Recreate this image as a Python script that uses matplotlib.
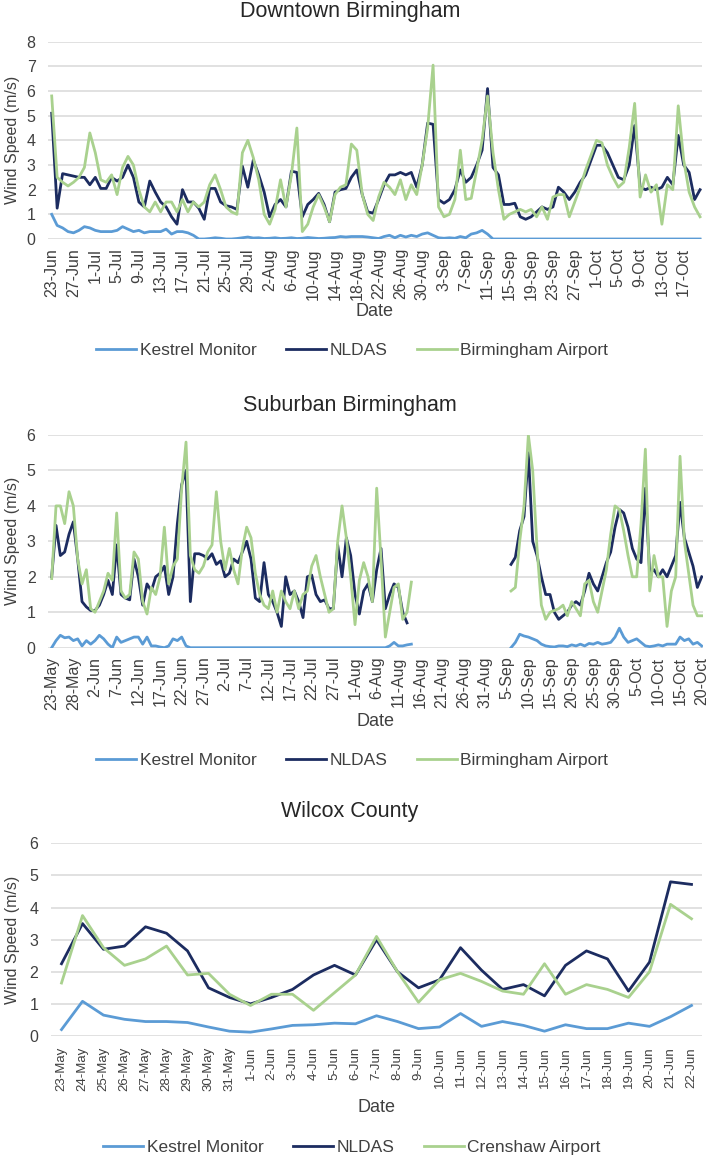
import matplotlib
matplotlib.use('Agg')
import matplotlib.pyplot as plt
import numpy as np
import pandas as pd

plt.rcParams['font.family'] = ['Liberation Sans', 'DejaVu Sans']

nan = np.nan

# Downtown Birmingham, daily 23-Jun .. 20-Oct
dt_dates = pd.date_range('2017-06-23', '2017-10-20')
dt_kestrel = [1.0, 0.55, 0.45, 0.3, 0.25, 0.35, 0.5, 0.45, 0.35, 0.3,
              0.3, 0.3, 0.35, 0.5, 0.4, 0.3, 0.35, 0.25, 0.3, 0.3,
              0.3, 0.4, 0.2, 0.3, 0.3, 0.25, 0.15, 0.0, 0.0, 0.02,
              0.05, 0.03, 0.0, 0.0, 0.02, 0.05, 0.08, 0.04, 0.05, 0.02,
              0.03, 0.05, 0.02, 0.03, 0.05, 0.02, 0.03, 0.06, 0.04, 0.02,
              0.03, 0.05, 0.06, 0.1, 0.08, 0.1, 0.1, 0.1, 0.08, 0.05,
              0.02, 0.1, 0.15, 0.05, 0.15, 0.08, 0.15, 0.1, 0.2, 0.25,
              0.15, 0.05, 0.03, 0.05, 0.03, 0.1, 0.05, 0.2, 0.25, 0.35,
              0.2, 0.0, 0.0, 0.0, 0.0, 0.0, 0.0, 0.0, 0.0, 0.0,
              0.0, 0.0, 0.0, 0.0, 0.0, 0.0, 0.0, 0.0, 0.0, 0.0,
              0.0, 0.0, 0.0, 0.0, 0.0, 0.0, 0.0, 0.0, 0.0, 0.0,
              0.0, 0.0, 0.0, 0.0, 0.0, 0.0, 0.0, 0.0, 0.0, 0.0]
dt_nldas = [5.1, 1.25, 2.65, 2.6, 2.55, 2.5, 2.5, 2.2, 2.5, 2.05,
            2.05, 2.5, 2.35, 2.5, 3.0, 2.5, 1.5, 1.3, 2.35, 1.9,
            1.5, 1.3, 0.9, 0.6, 2.0, 1.5, 1.5, 1.25, 0.8, 2.05,
            2.05, 1.5, 1.35, 1.3, 1.2, 2.95, 2.1, 3.2, 2.6, 1.9,
            0.9, 1.4, 1.6, 1.3, 2.75, 2.7, 0.9, 1.4, 1.6, 1.85,
            1.4, 0.7, 1.9, 2.0, 2.05, 2.5, 2.8, 1.8, 1.1, 1.05,
            1.6, 2.2, 2.6, 2.6, 2.7, 2.6, 2.7, 2.1, 3.0, 4.7,
            4.65, 1.6, 1.45, 1.6, 2.0, 2.8, 2.3, 2.5, 3.0, 3.6,
            6.1, 2.9, 2.6, 1.4, 1.4, 1.45, 0.9, 0.8, 0.9, 1.1,
            1.3, 1.2, 1.3, 2.1, 1.9, 1.6, 1.9, 2.3, 2.6, 3.2,
            3.8, 3.8, 3.5, 3.0, 2.5, 2.4, 3.0, 4.6, 2.1, 2.0,
            2.1, 2.0, 2.1, 2.5, 2.2, 4.2, 3.0, 2.7, 1.6, 2.0]
dt_airport = [5.8, 2.5, 2.3, 2.15, 2.3, 2.5, 2.9, 4.3, 3.5, 2.4,
              2.3, 2.6, 1.8, 2.9, 3.35, 3.0, 2.0, 1.3, 1.1, 1.5,
              1.1, 1.5, 1.5, 1.1, 1.6, 1.1, 1.5, 1.3, 1.5, 2.2,
              2.6, 2.0, 1.3, 1.1, 1.0, 3.5, 4.0, 3.3, 2.4, 1.0,
              0.6, 1.2, 2.4, 1.3, 2.6, 4.5, 0.3, 0.6, 1.3, 1.8,
              1.3, 0.7, 1.8, 2.1, 2.2, 3.85, 3.6, 1.8, 1.0, 0.75,
              1.7, 2.3, 2.1, 1.8, 2.4, 1.6, 2.2, 1.8, 3.0, 4.5,
              7.05, 1.3, 0.9, 1.0, 1.6, 3.6, 1.6, 1.65, 2.8, 4.0,
              5.8, 3.5, 2.0, 0.8, 1.0, 1.1, 1.2, 1.1, 1.2, 0.9,
              1.3, 0.8, 1.7, 1.8, 1.8, 0.9, 1.5, 2.1, 2.8, 3.4,
              4.0, 3.9, 3.0, 2.5, 2.1, 2.3, 3.7, 5.5, 1.7, 2.6,
              1.9, 2.2, 0.6, 2.2, 2.0, 5.4, 3.2, 1.9, 1.3, 0.9]

# Suburban Birmingham, daily 23-May .. 20-Oct (gap in late Aug)
sub_dates = pd.date_range('2017-05-23', '2017-10-20')
sub_kestrel = [0.0, 0.2, 0.35, 0.28, 0.3, 0.2, 0.25, 0.05, 0.2, 0.1,
               0.2, 0.35, 0.25, 0.1, 0.0, 0.3, 0.15, 0.2, 0.25, 0.3,
               0.3, 0.1, 0.3, 0.05, 0.05, 0.02, 0.0, 0.05, 0.25, 0.2,
               0.3, 0.05, 0.0, 0.0, 0.0, 0.0, 0.0, 0.0, 0.0, 0.0,
               0.0, 0.0, 0.0, 0.0, 0.0, 0.0, 0.0, 0.0, 0.0, 0.0,
               0.0, 0.0, 0.0, 0.0, 0.0, 0.0, 0.0, 0.0, 0.0, 0.0,
               0.0, 0.0, 0.0, 0.0, 0.0, 0.0, 0.0, 0.0, 0.0, 0.0,
               0.0, 0.0, 0.0, 0.0, 0.0, 0.0, 0.0, 0.0, 0.05, 0.15,
               0.05, 0.05, 0.08, 0.1, nan, nan, nan, nan, nan, nan,
               nan, nan, nan, nan, nan, nan, nan, nan, nan, nan,
               nan, nan, nan, nan, nan, nan, 0.0, 0.15, 0.38, 0.33,
               0.3, 0.25, 0.2, 0.1, 0.05, 0.03, 0.02, 0.05, 0.05, 0.03,
               0.08, 0.05, 0.1, 0.05, 0.12, 0.1, 0.15, 0.1, 0.12, 0.15,
               0.3, 0.55, 0.3, 0.15, 0.2, 0.25, 0.15, 0.05, 0.03, 0.05,
               0.08, 0.05, 0.1, 0.1, 0.1, 0.3, 0.2, 0.25, 0.1, 0.15,
               0.05]
sub_nldas = [2.0, 3.45, 2.6, 2.7, 3.2, 3.55, 2.5, 1.3, 1.15, 1.05,
             1.05, 1.2, 1.5, 1.9, 1.5, 2.9, 1.5, 1.4, 1.35, 2.5,
             2.0, 1.2, 1.8, 1.6, 2.0, 2.1, 2.3, 1.5, 2.0, 3.5,
             4.6, 5.0, 1.3, 2.65, 2.65, 2.6, 2.5, 2.65, 2.35, 2.45,
             2.0, 2.1, 2.5, 2.4, 2.7, 3.0, 2.5, 1.4, 1.3, 2.4,
             1.5, 1.3, 1.0, 0.6, 2.0, 1.5, 1.6, 1.3, 0.85, 2.0,
             2.05, 1.5, 1.3, 1.35, 1.1, 1.1, 2.9, 2.0, 3.1, 2.6,
             1.5, 0.95, 1.6, 1.8, 1.3, 2.2, 2.8, 1.1, 1.5, 1.8,
             1.7, 1.0, 0.7, nan, nan, nan, nan, nan, nan, nan,
             nan, nan, nan, nan, nan, nan, nan, nan, nan, nan,
             nan, nan, nan, nan, nan, nan, 2.35, 2.55, 3.3, 3.7,
             5.5, 3.0, 2.6, 2.0, 1.5, 1.5, 1.0, 0.8, 0.9, 1.0,
             1.2, 1.3, 1.2, 1.6, 2.1, 1.8, 1.6, 2.0, 2.4, 2.7,
             3.4, 3.9, 3.8, 3.4, 2.8, 2.5, 2.4, 4.5, 2.1, 2.2,
             2.0, 2.2, 2.0, 2.3, 2.6, 4.1, 3.1, 2.7, 2.3, 1.7,
             2.0]
sub_airport = [1.95, 4.0, 4.0, 3.5, 4.4, 4.0, 2.5, 1.8, 2.2, 1.1,
               1.0, 1.3, 1.6, 2.1, 1.9, 3.8, 1.6, 1.4, 1.5, 2.7,
               2.5, 1.3, 0.95, 1.7, 1.5, 2.0, 3.4, 1.8, 2.3, 2.5,
               4.5, 5.8, 2.6, 2.2, 2.1, 2.3, 2.7, 2.9, 4.4, 3.0,
               2.2, 2.8, 2.2, 1.8, 2.8, 3.4, 3.1, 2.1, 1.5, 1.2,
               1.1, 1.6, 1.0, 1.6, 1.3, 1.1, 1.6, 1.1, 1.5, 1.6,
               2.3, 2.6, 2.0, 1.5, 1.0, 1.1, 3.0, 4.0, 3.1, 2.0,
               0.65, 1.9, 2.4, 2.0, 1.3, 4.5, 2.5, 0.3, 1.0, 1.7,
               1.8, 0.8, 1.0, 1.85, nan, nan, nan, nan, nan, nan,
               nan, nan, nan, nan, nan, nan, nan, nan, nan, nan,
               nan, nan, nan, nan, nan, nan, 1.6, 1.7, 3.0, 4.0,
               6.0, 5.0, 2.8, 1.2, 0.8, 1.0, 1.05, 1.1, 1.2, 0.9,
               1.3, 1.1, 0.9, 1.8, 1.9, 1.3, 1.0, 1.6, 2.2, 3.2,
               4.0, 3.9, 3.3, 2.6, 2.0, 2.0, 3.5, 5.6, 1.6, 2.6,
               2.0, 2.0, 0.6, 1.6, 2.0, 5.4, 3.0, 2.1, 1.2, 0.9,
               0.9]

# Wilcox County, daily 23-May .. 22-Jun
wil_dates = pd.date_range('2017-05-23', '2017-06-22')
wil_kestrel = [0.2, 1.08, 0.65, 0.52, 0.45, 0.45, 0.42, 0.28, 0.15, 0.12,
               0.22, 0.33, 0.35, 0.4, 0.38, 0.63, 0.45, 0.23, 0.28, 0.7,
               0.3, 0.45, 0.33, 0.15, 0.35, 0.23, 0.23, 0.4, 0.3, 0.6,
               0.95]
wil_nldas = [2.25, 3.5, 2.7, 2.8, 3.4, 3.2, 2.65, 1.5, 1.2, 1.0,
             1.2, 1.45, 1.9, 2.2, 1.9, 3.0, 2.0, 1.5, 1.75, 2.75,
             2.05, 1.45, 1.6, 1.25, 2.2, 2.65, 2.4, 1.4, 2.3, 4.8,
             4.72]
wil_airport = [1.65, 3.75, 2.75, 2.2, 2.4, 2.8, 1.9, 1.95, 1.3, 0.95,
               1.3, 1.3, 0.8, 1.35, 1.9, 3.1, 2.0, 1.05, 1.75, 1.95,
               1.7, 1.4, 1.3, 2.25, 1.3, 1.6, 1.45, 1.2, 2.0, 4.1,
               3.65]

C_KES = '#5B9BD5'
C_NLD = '#1C2C60'
C_AIR = '#A9D18E'
GRID = '#DCDCDC'
TXT = '#404040'

W, H = 709, 1157
fig = plt.figure(figsize=(W / 100, H / 100), dpi=100)


def px(x, y):
    return x / W, 1 - y / H


def panel(rect, title, title_y, dates, kes, nld, air, air_name, ymax, step,
          xlim, tick_size, tick_pad, date_y, legend_y):
    left, top, right, bottom = rect
    ax = fig.add_axes([left / W, 1 - bottom / H, (right - left) / W, (bottom - top) / H])
    x = np.arange(len(dates))
    lk, = ax.plot(x, kes, color=C_KES, lw=2)
    ln, = ax.plot(x, nld, color=C_NLD, lw=2)
    la, = ax.plot(x, air, color=C_AIR, lw=2)
    ax.set_ylim(0, ymax)
    ax.set_yticks(range(0, ymax + 1))
    ax.set_xlim(*xlim)
    ax.set_xticks(x[::step])
    ax.set_xticklabels([f"{d.day}-{d:%b}" for d in dates[::step]], rotation=90,
                       fontsize=tick_size, color=TXT)
    ax.tick_params(axis='x', length=0, pad=tick_pad)
    ax.tick_params(axis='y', length=0, pad=9, labelsize=11.5, labelcolor=TXT)
    for s in ax.spines.values():
        s.set_visible(False)
    ax.yaxis.grid(True, color=GRID, lw=1.2)
    ax.set_axisbelow(True)
    cx = (left + right) / 2
    fig.text(*px(350, title_y), title, ha='center', va='center', fontsize=15.5, color='#262626')
    fig.text(*px(cx, date_y), 'Date', ha='center', va='center', fontsize=13, color=TXT)
    fig.text(*px(13, (top + bottom) / 2), 'Wind Speed (m/s)', rotation=90,
             ha='center', va='center', fontsize=11.5, color=TXT)
    fig.legend([lk, ln, la], ['Kestrel Monitor', 'NLDAS', air_name], loc='center',
               bbox_to_anchor=px(352, legend_y), bbox_transform=fig.transFigure,
               ncol=3, frameon=False, fontsize=12.5, handlelength=2.3,
               handletextpad=0.2, columnspacing=1.7, labelcolor=TXT)
    return ax


panel((48, 41.7, 702, 239), 'Downtown Birmingham', 12, dt_dates,
      dt_kestrel, dt_nldas, dt_airport, 'Birmingham Airport', 8, 4,
      (-0.68, 119.36), 11.5, 6.5, 312, 350)
panel((48, 435, 703, 647.7), 'Suburban Birmingham', 405, sub_dates,
      sub_kestrel, sub_nldas, sub_airport, 'Birmingham Airport', 6, 5,
      (-0.85, 150.3), 11.5, 6.5, 721, 760)
panel((51, 843.3, 702, 1036), 'Wilcox County', 812, wil_dates,
      wil_kestrel, wil_nldas, wil_airport, 'Crenshaw Airport', 6, 1,
      (-0.5, 30.5), 9.5, 8, 1108, 1147)

fig.savefig('out.png', dpi=100)
